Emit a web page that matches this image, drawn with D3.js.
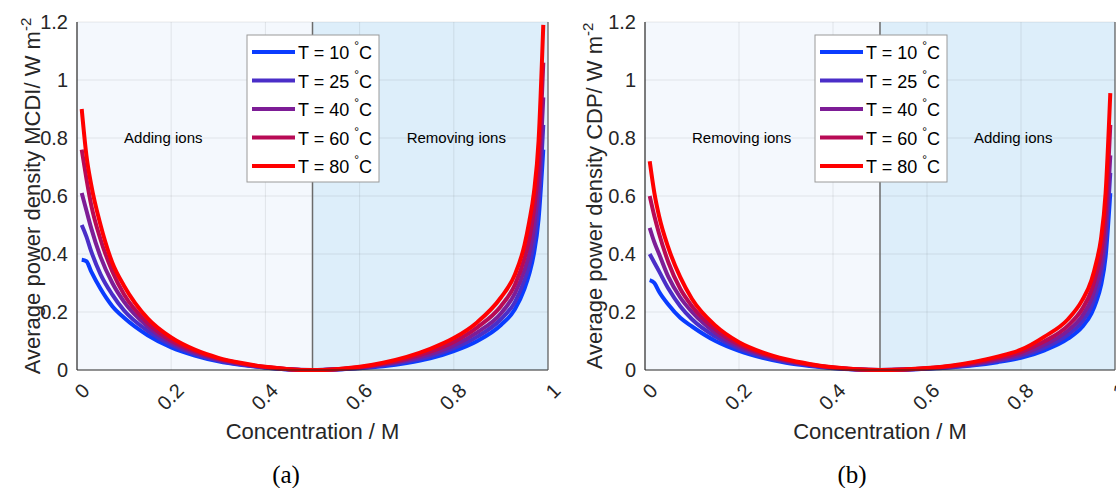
<!DOCTYPE html>
<html>
<head>
<meta charset="utf-8">
<script src="https://cdn.jsdelivr.net/npm/d3@7"></script>
<style>
  html, body { margin: 0; padding: 0; background: #ffffff; }
  svg { display: block; }
</style>
</head>
<body>
<svg id="chart" width="1116" height="488"></svg>
<script>
// ---------------- DATA ----------------
const concentrations = [0.01, 0.02, 0.03, 0.05, 0.075, 0.1, 0.15, 0.2, 0.25, 0.3, 0.35, 0.4, 0.45, 0.5,
                        0.55, 0.6, 0.65, 0.7, 0.75, 0.8, 0.85, 0.9, 0.93, 0.95, 0.96, 0.97, 0.98, 0.99];
const temperatures = ["10", "25", "40", "60", "80"];
const seriesColors = ["#0a3cff", "#4a2ec8", "#7d1d96", "#b80a55", "#ff0000"];

// Panel (a): MCDI
const mcdiT10 = [0.38, 0.375, 0.34, 0.28, 0.22, 0.18, 0.12, 0.078, 0.05, 0.03, 0.017, 0.008, 0.002, 0,
                 0.002, 0.006, 0.013, 0.024, 0.04, 0.065, 0.10, 0.155, 0.21, 0.28, 0.33, 0.40, 0.52, 0.76];
const mcdiT25 = [0.50, 0.46, 0.41, 0.33, 0.26, 0.205, 0.135, 0.087, 0.055, 0.033, 0.019, 0.009, 0.002, 0,
                 0.002, 0.007, 0.016, 0.029, 0.047, 0.075, 0.115, 0.175, 0.235, 0.31, 0.36, 0.44, 0.57, 0.845];
const mcdiT40 = [0.61, 0.55, 0.49, 0.39, 0.30, 0.235, 0.15, 0.095, 0.06, 0.036, 0.02, 0.0095, 0.0025, 0,
                 0.0025, 0.008, 0.019, 0.034, 0.055, 0.085, 0.13, 0.195, 0.265, 0.345, 0.40, 0.49, 0.64, 0.94];
const mcdiT60 = [0.76, 0.66, 0.57, 0.45, 0.34, 0.26, 0.162, 0.102, 0.065, 0.039, 0.022, 0.01, 0.003, 0,
                 0.003, 0.0095, 0.022, 0.039, 0.063, 0.097, 0.147, 0.22, 0.295, 0.385, 0.45, 0.55, 0.71, 1.06];
const mcdiT80 = [0.90, 0.74, 0.64, 0.50, 0.37, 0.29, 0.178, 0.112, 0.07, 0.042, 0.024, 0.011, 0.003, 0,
                 0.003, 0.011, 0.025, 0.045, 0.073, 0.11, 0.165, 0.25, 0.33, 0.43, 0.51, 0.61, 0.79, 1.19];

// Panel (b): CDP
const cdpT10 = [0.31, 0.30, 0.27, 0.225, 0.18, 0.15, 0.10, 0.066, 0.042, 0.025, 0.014, 0.006, 0.0015, 0,
                0.001, 0.004, 0.009, 0.016, 0.027, 0.042, 0.068, 0.108, 0.148, 0.195, 0.235, 0.29, 0.39, 0.61];
const cdpT25 = [0.40, 0.37, 0.34, 0.28, 0.22, 0.175, 0.115, 0.074, 0.047, 0.028, 0.016, 0.007, 0.0018, 0,
                0.0012, 0.0045, 0.01, 0.018, 0.031, 0.048, 0.077, 0.122, 0.167, 0.22, 0.265, 0.325, 0.44, 0.68];
const cdpT40 = [0.49, 0.44, 0.40, 0.32, 0.25, 0.20, 0.128, 0.081, 0.052, 0.031, 0.017, 0.0078, 0.002, 0,
                0.0014, 0.005, 0.011, 0.021, 0.035, 0.054, 0.087, 0.136, 0.186, 0.245, 0.295, 0.36, 0.48, 0.74];
const cdpT60 = [0.60, 0.53, 0.47, 0.37, 0.28, 0.22, 0.14, 0.088, 0.056, 0.034, 0.019, 0.0085, 0.0022, 0,
                0.0017, 0.006, 0.013, 0.024, 0.04, 0.062, 0.099, 0.153, 0.21, 0.275, 0.33, 0.40, 0.54, 0.845];
const cdpT80 = [0.72, 0.61, 0.53, 0.42, 0.32, 0.245, 0.153, 0.096, 0.061, 0.037, 0.021, 0.0092, 0.0025, 0,
                0.002, 0.007, 0.015, 0.028, 0.046, 0.07, 0.115, 0.175, 0.24, 0.31, 0.37, 0.45, 0.61, 0.955];

const xTicks = [0, 0.2, 0.4, 0.6, 0.8, 1];
const xTickLabels = ["0", "0.2", "0.4", "0.6", "0.8", "1"];
const yTicks = [0, 0.2, 0.4, 0.6, 0.8, 1, 1.2];
const yTickLabels = ["0", "0.2", "0.4", "0.6", "0.8", "1", "1.2"];

const panels = [
  { caption: "(a)", ylabel: "Average power density MCDI/ W m", leftText: "Adding ions", rightText: "Removing ions",
    series: [mcdiT10, mcdiT25, mcdiT40, mcdiT60, mcdiT80],
    x0: 77, x1: 548, ylabelX: 40, captionX: 286 },
  { caption: "(b)", ylabel: "Average power density CDP/ W m", leftText: "Removing ions", rightText: "Adding ions",
    series: [cdpT10, cdpT25, cdpT40, cdpT60, cdpT80],
    x0: 645, x1: 1115, ylabelX: 602, captionX: 852 }
];

// ---------------- DRAW ----------------
const svg = d3.select("#chart");
const SANS = "'Liberation Sans', Arial, sans-serif";
const SERIF = "'Liberation Serif', 'Times New Roman', serif";
const yTop = 22, yBot = 370;
const textColor = "#262626";

panels.forEach((p) => {
  const xs = d3.scaleLinear().domain([0, 1]).range([p.x0, p.x1]);
  const ys = d3.scaleLinear().domain([0, 1.2]).range([yBot, yTop]);
  const g = svg.append("g").style("font-family", SANS);

  // shaded halves
  g.append("rect").attr("x", xs(0)).attr("y", ys(1.2)).attr("width", xs(0.5) - xs(0)).attr("height", ys(0) - ys(1.2))
    .attr("fill", "#f4f8fd");
  g.append("rect").attr("x", xs(0.5)).attr("y", ys(1.2)).attr("width", xs(1) - xs(0.5)).attr("height", ys(0) - ys(1.2))
    .attr("fill", "#ddeefa");

  // grid
  g.append("g").selectAll("line").data(xTicks.slice(1, -1)).join("line")
    .attr("x1", d => xs(d)).attr("x2", d => xs(d)).attr("y1", ys(0)).attr("y2", ys(1.2))
    .attr("stroke", "rgba(38,38,38,0.09)").attr("stroke-width", 1);
  g.append("g").selectAll("line").data(yTicks.slice(1)).join("line")
    .attr("x1", xs(0)).attr("x2", xs(1)).attr("y1", d => ys(d)).attr("y2", d => ys(d))
    .attr("stroke", "rgba(38,38,38,0.09)").attr("stroke-width", 1);

  // divider at 0.5
  g.append("line").attr("x1", xs(0.5)).attr("x2", xs(0.5)).attr("y1", ys(0)).attr("y2", ys(1.2))
    .attr("stroke", "#6b6b6b").attr("stroke-width", 1.5);

  // annotations
  g.append("text").attr("x", xs(0.10)).attr("y", ys(0.8) + 5).attr("font-size", 15).attr("fill", "#000")
    .text(p.leftText);
  g.append("text").attr("x", xs(0.70)).attr("y", ys(0.8) + 5).attr("font-size", 15).attr("fill", "#000")
    .text(p.rightText);

  // curves
  const line = d3.line().x((d, i) => xs(concentrations[i])).y(d => ys(d)).curve(d3.curveMonotoneX);
  p.series.forEach((s, si) => {
    g.append("path").attr("d", line(s)).attr("fill", "none")
      .attr("stroke", seriesColors[si]).attr("stroke-width", 4);
  });

  // axes lines
  g.append("line").attr("x1", xs(0)).attr("x2", xs(0)).attr("y1", ys(0)).attr("y2", ys(1.2))
    .attr("stroke", textColor).attr("stroke-width", 1.2);
  g.append("line").attr("x1", xs(0)).attr("x2", xs(1)).attr("y1", ys(0)).attr("y2", ys(0))
    .attr("stroke", textColor).attr("stroke-width", 1.2);
  g.append("line").attr("x1", xs(1)).attr("x2", xs(1)).attr("y1", ys(0)).attr("y2", ys(1.2))
    .attr("stroke", "#555").attr("stroke-width", 1.2);

  // y tick labels
  g.append("g").selectAll("text").data(yTicks).join("text")
    .attr("x", xs(0) - 9).attr("y", d => ys(d)).attr("dominant-baseline", "central")
    .attr("text-anchor", "end").attr("font-size", 20).attr("fill", textColor)
    .text((d, i) => yTickLabels[i]);

  // x tick labels rotated
  g.append("g").selectAll("text").data(xTicks).join("text")
    .attr("transform", d => `translate(${xs(d) + 9},387) rotate(-45)`)
    .attr("dominant-baseline", "central").attr("text-anchor", "end")
    .attr("font-size", 20).attr("fill", textColor)
    .text((d, i) => xTickLabels[i]);

  // x label
  g.append("text").attr("x", (xs(0) + xs(1)) / 2).attr("y", 439).attr("text-anchor", "middle")
    .attr("font-size", 22).attr("fill", textColor).text("Concentration / M");

  // y label
  const yl = g.append("text").attr("transform", `translate(${p.ylabelX},${(ys(0) + ys(1.2)) / 2}) rotate(-90)`)
    .attr("text-anchor", "middle").attr("font-size", 22).attr("fill", textColor);
  yl.append("tspan").text(p.ylabel);
  yl.append("tspan").attr("dy", -9).attr("font-size", 15).text("-2");

  // legend
  const lx = xs(0) + 170, ly = 35, lw = 132, lh = 147;
  const lg = g.append("g");
  lg.append("rect").attr("x", lx).attr("y", ly).attr("width", lw).attr("height", lh)
    .attr("fill", "#ffffff").attr("stroke", "#9a9a9a").attr("stroke-width", 1);
  temperatures.forEach((t, i) => {
    const yy = ly + 17 + i * 28.5;
    lg.append("line").attr("x1", lx + 5).attr("x2", lx + 48).attr("y1", yy).attr("y2", yy)
      .attr("stroke", seriesColors[i]).attr("stroke-width", 4);
    const tx = lg.append("text").attr("x", lx + 51).attr("y", yy + 7).attr("font-size", 18).attr("fill", "#000");
    tx.append("tspan").text(`T = ${t} `);
    tx.append("tspan").attr("dy", -9).attr("font-size", 12).text("°");
    tx.append("tspan").attr("dy", 9).text("C");
  });

  // caption
  svg.append("text").attr("x", p.captionX).attr("y", 483).attr("text-anchor", "middle")
    .style("font-family", SERIF).attr("font-size", 25)
    .attr("fill", "#000").text(p.caption);
});
</script>
</body>
</html>
